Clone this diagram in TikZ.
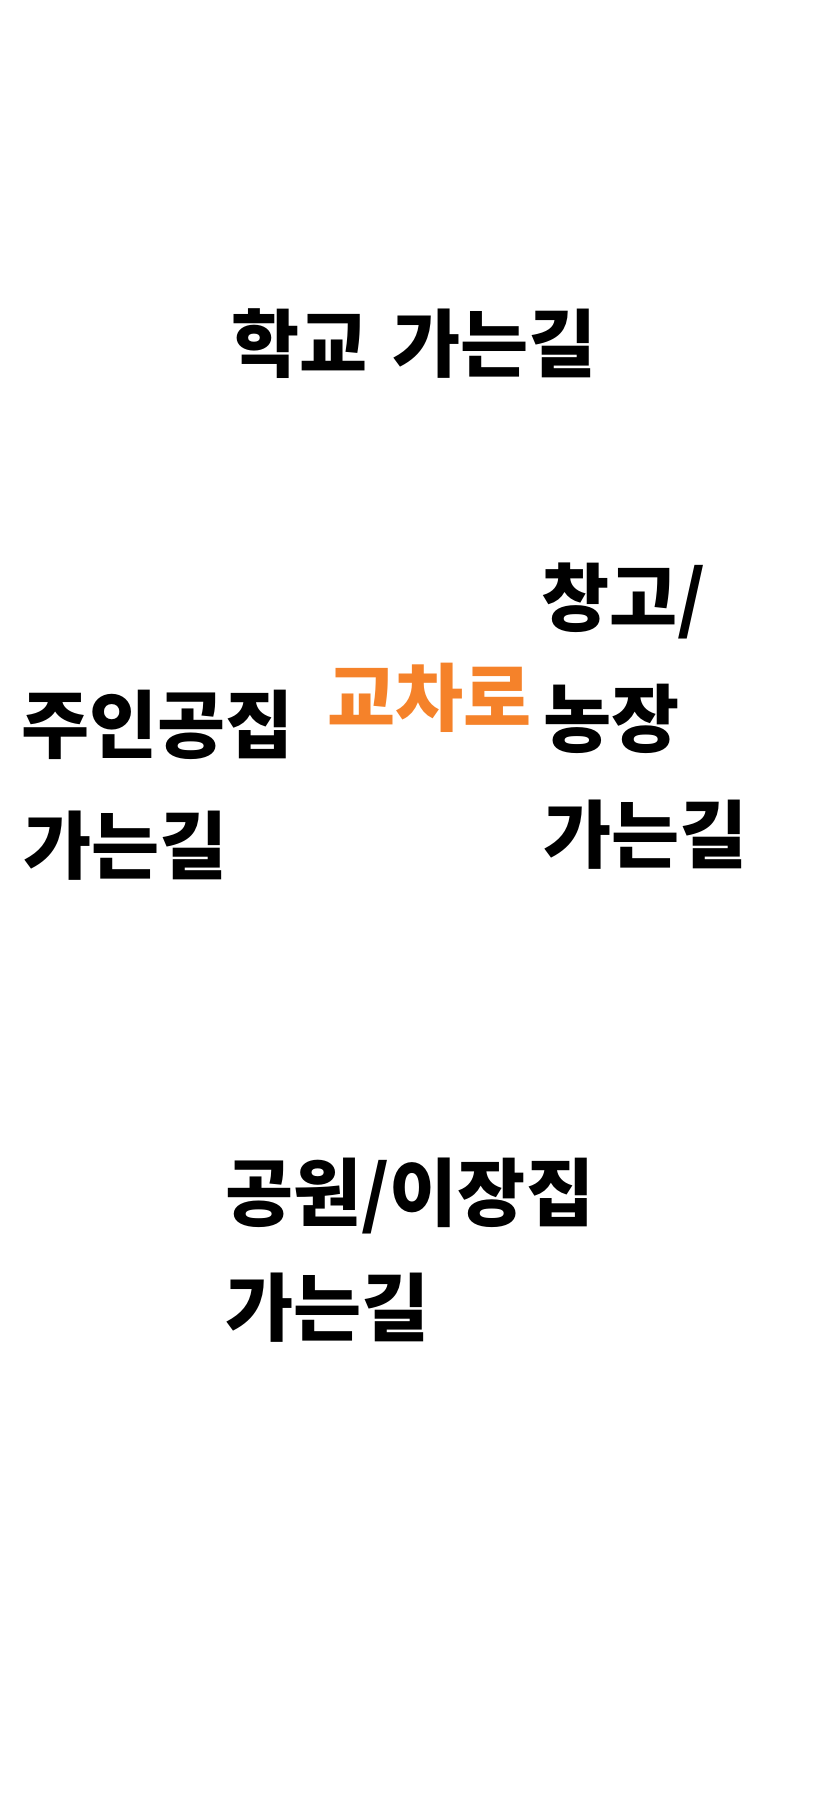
\documentclass[tikz,border=0pt]{standalone}
\usepackage{fontspec}
\usepackage{xcolor}
\usetikzlibrary{positioning}
\newfontfamily\kor{Noto Sans CJK KR}
\definecolor{crossing}{HTML}{F5822A}

\begin{document}
\begin{tikzpicture}[x=1pt,y=-1pt,
  lbl/.style={anchor=base west,inner sep=0pt,font=\kor\bfseries\fontsize{74}{88}\selectfont},
  hub/.style={lbl,text=crossing}]
\useasboundingbox (0,0) rectangle (840,1812);
% road names
\foreach \n/\t/\x/\y in {school/{학교\hspace{8pt} 가는길}/231/371,
  farm1/{창고/}/541/625, farm2/{농장}/543/746, farm3/{가는길}/543/862,
  home1/{주인공집}/21/752, home2/{가는길}/23/873,
  park1/{공원/이장집}/225/1220, park2/{가는길}/225/1335}
  \node[lbl] (\n) at (\x,\y) {\t};
\node[hub] (cross) at (327,725) {교차로};
\end{tikzpicture}
\end{document}
